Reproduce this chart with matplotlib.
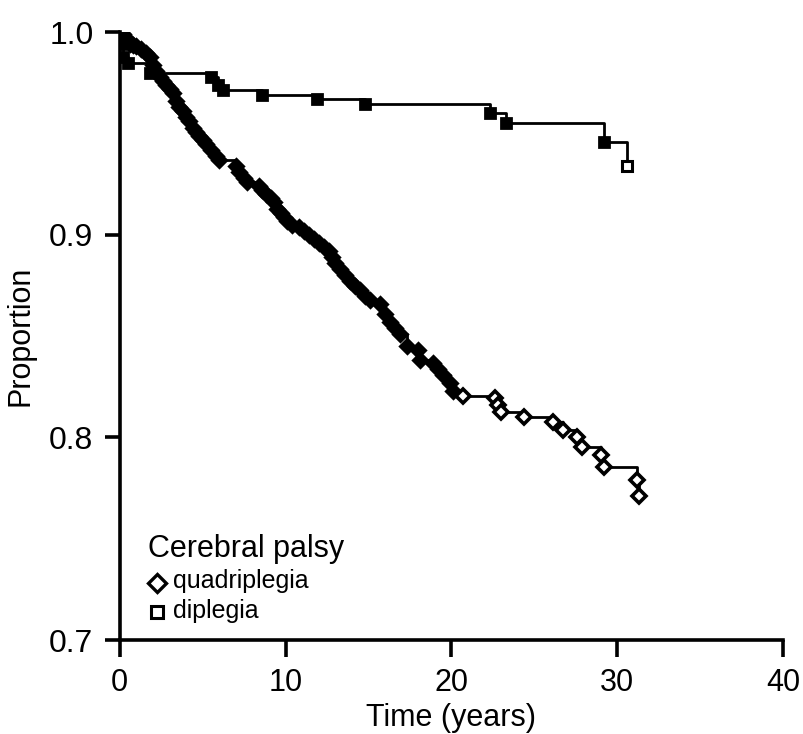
import matplotlib
matplotlib.use("Agg")
import matplotlib.pyplot as plt

# ---------------- datos ----------------
# cuadriplejia: tiempo (anos) y proporcion en cada escalon
quad_t = [0.0, 0.2, 0.4, 0.6, 0.8, 1.0, 1.3, 1.6, 1.8, 2.0, 2.2, 2.4, 2.6, 2.8,
          3.0, 3.2, 3.4, 3.6, 3.8, 4.0, 4.2, 4.4, 4.6, 4.8, 5.0, 5.2, 5.5, 5.8,
          6.0, 7.0, 7.2, 7.5, 7.7, 8.4, 8.6, 8.8, 9.1, 9.3, 9.5, 9.7, 9.9, 10.1,
          10.4, 10.8, 11.1, 11.4, 11.7, 12.0, 12.3, 12.6, 12.8, 13.0, 13.3, 13.6,
          13.9, 14.2, 14.5, 14.8, 15.1, 15.7, 16.0, 16.3, 16.6, 16.9, 17.3, 18.0,
          18.1, 18.9, 19.2, 19.5, 19.9, 20.1, 20.7, 22.6, 22.8, 23.0, 24.4, 26.1,
          26.7, 27.6, 27.9, 29.0, 29.2, 31.2, 31.3]
quad_s = [1.000, 0.999, 0.997, 0.994, 0.9935, 0.993, 0.992, 0.990, 0.988, 0.984,
          0.981, 0.978, 0.976, 0.974, 0.972, 0.970, 0.966, 0.963, 0.961, 0.958,
          0.956, 0.953, 0.951, 0.949, 0.947, 0.945, 0.942, 0.939, 0.937, 0.934,
          0.931, 0.928, 0.926, 0.924, 0.922, 0.920, 0.918, 0.916, 0.913, 0.911,
          0.909, 0.907, 0.905, 0.904, 0.902, 0.900, 0.898, 0.896, 0.894, 0.892,
          0.889, 0.886, 0.883, 0.880, 0.877, 0.875, 0.873, 0.870, 0.868, 0.866,
          0.861, 0.857, 0.854, 0.851, 0.845, 0.843, 0.838, 0.837, 0.834, 0.831,
          0.827, 0.823, 0.8205, 0.8195, 0.816, 0.8127, 0.810, 0.8077, 0.8038,
          0.8003, 0.7954, 0.7915, 0.7855, 0.779, 0.771]

# diplejia
dipl_t = [0.0, 0.1, 0.2, 0.5, 1.8, 5.5, 5.9, 6.2, 8.6, 11.9, 14.8, 22.3, 23.3,
          29.2, 30.6]
dipl_s = [1.000, 0.994, 0.988, 0.985, 0.980, 0.978, 0.974, 0.9715, 0.969,
          0.967, 0.9645, 0.960, 0.955, 0.946, 0.934]

x_ticks = [0, 10, 20, 30, 40]
y_ticks = [0.7, 0.8, 0.9, 1.0]

plt.rcParams['font.family'] = ['Liberation Sans', 'DejaVu Sans']

fig = plt.figure(figsize=(8.04, 7.34), dpi=100)
ax = fig.add_axes([0.149, 0.128, 0.825, 0.828])

# curvas escalonadas
ax.step(quad_t, quad_s, where="post", color="black", lw=2.0)
# tramo denso: marcas casi rellenas; tramo final: marcas abiertas
denso = [i for i in range(1, len(quad_t) - 1) if quad_t[i] <= 20.1]
suelto = [i for i in range(1, len(quad_t)) if quad_t[i] > 20.1]
ax.plot([quad_t[i] for i in denso], [quad_s[i] for i in denso], ls="none",
        marker="D", ms=7.5, mfc="black", mec="black", mew=2.2)
ax.plot([quad_t[i] for i in suelto], [quad_s[i] for i in suelto], ls="none",
        marker="D", ms=7.5, mfc="white", mec="black", mew=2.6)
ax.step(dipl_t, dipl_s, where="post", color="black", lw=2.0)
ax.plot(dipl_t[1:-1], dipl_s[1:-1], ls="none", marker="s", ms=6.5, mfc="black",
        mec="black", mew=2.0)
ax.plot(dipl_t[-1], dipl_s[-1], ls="none", marker="s", ms=6.5, mfc="white",
        mec="black", mew=2.2)

ax.set_xlim(0, 40)
ax.set_ylim(0.7, 1.0)
ax.set_xticks(x_ticks)
ax.set_yticks(y_ticks)
ax.set_yticklabels(["0.7", "0.8", "0.9", "1.0"])

for s in ["top", "right"]:
    ax.spines[s].set_visible(False)
for s in ["left", "bottom"]:
    ax.spines[s].set_linewidth(2.6)
ax.tick_params(axis="x", length=12, width=2.6, labelsize=22, pad=8)
ax.tick_params(axis="y", length=11, width=2.6, labelsize=23, pad=8)

ax.set_xlabel("Time (years)", fontsize=22, labelpad=4)
ax.set_ylabel("Proportion", fontsize=22, labelpad=10)

# leyenda dibujada a mano como en la figura original
ax.text(0.043, 0.1365, "Cerebral palsy", transform=ax.transAxes, fontsize=22,
        va="baseline")
ax.plot([0.056], [0.094], transform=ax.transAxes, marker="D", ms=9.5,
        mfc="white", mec="black", mew=2.4, clip_on=False)
ax.text(0.080, 0.0855, "quadriplegia", transform=ax.transAxes, fontsize=18,
        va="baseline")
ax.plot([0.056], [0.046], transform=ax.transAxes, marker="s", ms=9,
        mfc="white", mec="black", mew=2.2, clip_on=False)
ax.text(0.080, 0.036, "diplegia", transform=ax.transAxes, fontsize=18,
        va="baseline")

fig.savefig("out.png", dpi=100)
